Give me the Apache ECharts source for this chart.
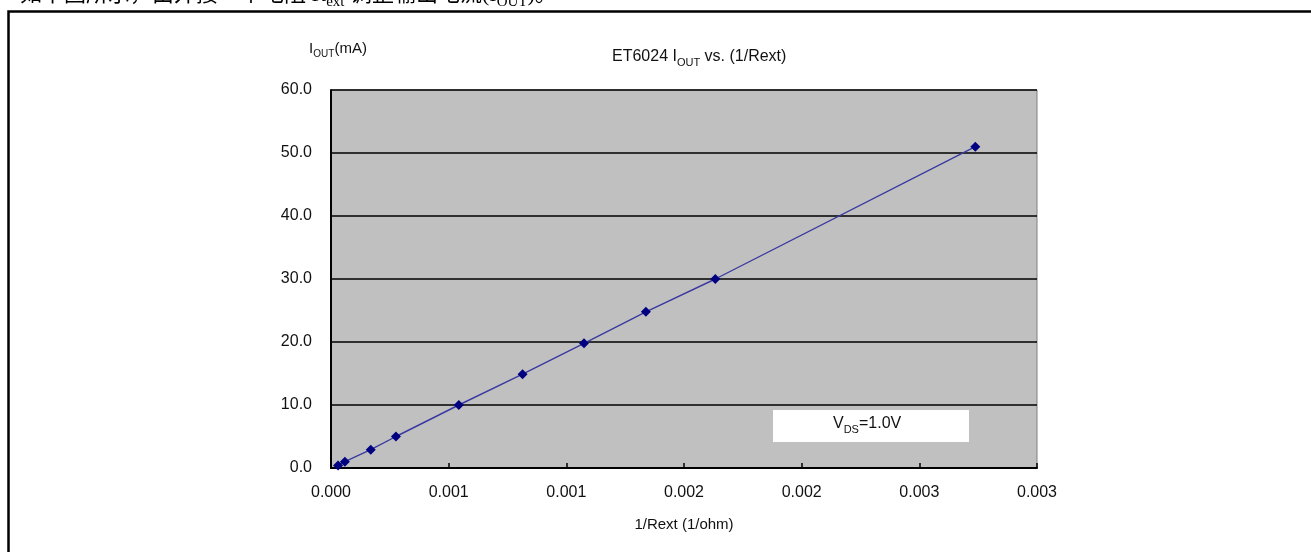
<!DOCTYPE html>
<html>
<head>
<meta charset="utf-8">
<script src="https://cdn.jsdelivr.net/npm/echarts@6/dist/echarts.min.js"></script>
<style>
html,body{margin:0;padding:0;background:#fff;}
#chart{width:1311px;height:552px;}
</style>
</head>
<body>
<div id="chart"></div>
<script>
// Data
const rextInv = [0.00003, 0.000059, 0.000169, 0.000276, 0.000543, 0.000814, 0.001075, 0.001338, 0.001633, 0.002738];
const ioutMA  = [0.4, 1.0, 2.9, 5.0, 10.0, 14.9, 19.8, 24.8, 30.0, 51.0];
const xTickLabels = ['0.000', '0.001', '0.001', '0.002', '0.002', '0.003', '0.003'];
const yTickLabels = ['0.0', '10.0', '20.0', '30.0', '40.0', '50.0', '60.0'];
const titleParts = ['ET6024 I', 'OUT', ' vs. (1/Rext)'];
const yName = ['I', 'OUT', '(mA)'];
const xName = '1/Rext (1/ohm)';
const noteParts = ['V', 'DS', '=1.0V'];
const docText = '如下图所示，由外接一个电阻 R';
const docTextSub = 'ext';
const docText2 = ' 调整输出电流(I';
const docText2Sub = 'OUT';
const docText3 = ')。';

const FONT = 'Liberation Sans, Arial, sans-serif';
const chart = echarts.init(document.getElementById('chart'));

const option = {
  animation: false,
  backgroundColor: '#ffffff',
  textStyle: { fontFamily: FONT },
  title: {
    text: '{a|' + titleParts[0] + '}{s|' + titleParts[1] + '}{a|' + titleParts[2] + '}',
    left: 607,
    top: 41,
    textStyle: {
      fontWeight: 'normal',
      rich: {
        a: { fontSize: 16, fontWeight: 'normal', color: '#111', fontFamily: FONT, lineHeight: 19, verticalAlign: 'bottom' },
        s: { fontSize: 11, fontWeight: 'normal', color: '#111', fontFamily: FONT, lineHeight: 15, verticalAlign: 'bottom', padding: [0, 0, -3, 0] }
      }
    }
  },
  grid: {
    left: 331, right: 274, top: 90, bottom: 84,
    show: true,
    backgroundColor: '#c0c0c0',
    borderColor: '#808080',
    borderWidth: 1,
    outerBoundsMode: 'none',
    containLabel: false
  },
  xAxis: {
    type: 'value',
    min: 0, max: 0.003, interval: 0.0005,
    name: xName,
    nameLocation: 'middle',
    nameGap: 49,
    nameTextStyle: { fontSize: 15, color: '#111', fontFamily: FONT },
    axisLine: { show: true, onZero: false, lineStyle: { color: '#000', width: 2 } },
    axisTick: { show: true, inside: true, length: 5, lineStyle: { color: '#000', width: 1.5 } },
    axisLabel: {
      fontSize: 16, color: '#111', margin: 17, fontFamily: FONT,
      formatter: function (v) { return xTickLabels[Math.round(v / 0.0005)]; }
    },
    splitLine: { show: false }
  },
  yAxis: {
    type: 'value',
    min: 0, max: 60, interval: 10,
    name: '{a|' + yName[0] + '}{s|' + yName[1] + '}{a|' + yName[2] + '}',
    nameLocation: 'end',
    nameGap: 34,
    nameTextStyle: {
      padding: [0, 0, 0, 14],
      rich: {
        a: { fontSize: 15, color: '#111', fontFamily: FONT, lineHeight: 18, verticalAlign: 'bottom' },
        s: { fontSize: 10, color: '#111', fontFamily: FONT, lineHeight: 14, verticalAlign: 'bottom', padding: [0, 0, -3, 0] }
      }
    },
    axisLine: { show: true, lineStyle: { color: '#000', width: 2 } },
    axisTick: { show: false },
    axisLabel: {
      fontSize: 16, color: '#111', margin: 19, fontFamily: FONT,
      formatter: function (v) { return yTickLabels[Math.round(v / 10)]; }
    },
    splitLine: { show: true, lineStyle: { color: '#000', width: 1.5 } }
  },
  series: [{
    type: 'line',
    data: rextInv.map((x, i) => [x, ioutMA[i]]),
    symbol: 'diamond',
    symbolSize: 10,
    showAllSymbol: true,
    lineStyle: { color: '#3a3aa0', width: 1.4 },
    itemStyle: { color: '#000080' },
    z: 5
  }],
  graphic: [
    {
      type: 'rect',
      left: 6, top: 9,
      shape: { width: 1400, height: 600 },
      style: { fill: 'none', stroke: '#000', lineWidth: 2.5 },
      silent: true
    },
    {
      type: 'text',
      left: 20, top: -16,
      style: {
        text: '{a|' + docText + '}{s|' + docTextSub + '}{a|' + docText2 + '}{s|' + docText2Sub + '}{a|' + docText3 + '}',
        rich: {
          a: { fontSize: 22, fontFamily: 'Liberation Serif, Noto Sans CJK SC, serif', fill: '#000', lineHeight: 24, verticalAlign: 'bottom' },
          s: { fontSize: 15, fontFamily: 'Liberation Serif, Noto Sans CJK SC, serif', fill: '#000', lineHeight: 20, verticalAlign: 'bottom', padding: [0, 0, -4, 0] }
        }
      },
      silent: true
    },
    {
      type: 'rect',
      left: 773, top: 410,
      shape: { width: 196, height: 32 },
      style: { fill: '#ffffff', stroke: 'none' },
      z: 10,
      silent: true
    },
    {
      type: 'text',
      left: 833, top: 416,
      style: {
        text: '{a|' + noteParts[0] + '}{s|' + noteParts[1] + '}{a|' + noteParts[2] + '}',
        rich: {
          a: { fontSize: 16, fontFamily: FONT, fill: '#111', lineHeight: 19, verticalAlign: 'bottom' },
          s: { fontSize: 11, fontFamily: FONT, fill: '#111', lineHeight: 15, verticalAlign: 'bottom', padding: [0, 0, -3, 0] }
        }
      },
      z: 11,
      silent: true
    }
  ]
};
chart.setOption(option);
</script>
</body>
</html>
